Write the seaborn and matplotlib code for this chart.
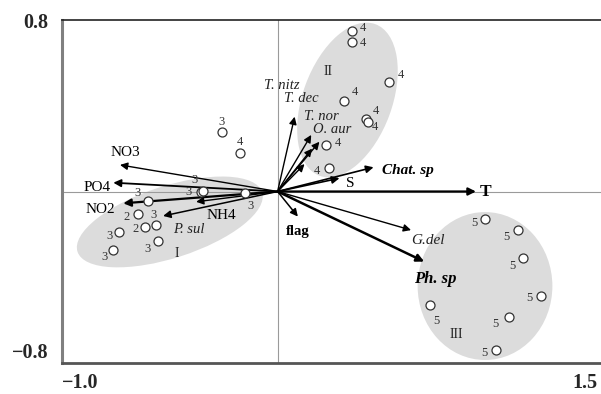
import numpy as np
import pandas as pd
import matplotlib
matplotlib.use("Agg")
import matplotlib.pyplot as plt
from matplotlib.patches import Ellipse
from matplotlib.transforms import ScaledTranslation
import seaborn as sns

# ---------------- data ----------------
site_x = [-0.26, -0.175, -0.353, -0.345, -0.15, -0.602, -0.648, -0.562, -0.616, -0.735, -0.557, -0.765,
          0.346, 0.346, 0.515, 0.306, 0.41, 0.421, 0.225, 0.238,
          0.963, 1.113, 1.139, 1.221, 0.707, 1.074, 1.015]
site_y = [0.279, 0.181, -0.002, 0.003, -0.008, -0.044, -0.106, -0.158, -0.164, -0.187, -0.231, -0.273,
          0.749, 0.696, 0.512, 0.424, 0.337, 0.326, 0.217, 0.108,
          -0.13, -0.18, -0.312, -0.487, -0.529, -0.584, -0.739]
site_labels = ["3", "4", "3", "3", "3", "3", "2", "3", "2", "3", "3", "3",
               "4", "4", "4", "4", "4", "4", "4", "4",
               "5", "5", "5", "5", "5", "5", "5"]

vec_names = ["NO3", "PO4", "NO2", "NH4", "P. sul", "T. nitz", "T. dec", "T. nor", "O. aur", "",
             "Chat. sp", "S", "T", "G.del", "Ph. sp", "flag"]
vec_x = [-0.731, -0.762, -0.716, -0.531, -0.378, 0.079, 0.156, 0.194, 0.16, 0.125,
         0.445, 0.287, 0.92, 0.619, 0.68, 0.094]
vec_y = [0.124, 0.041, -0.055, -0.114, -0.048, 0.349, 0.264, 0.232, 0.2, 0.128,
         0.113, 0.062, 0.0, -0.18, -0.327, -0.117]

group_names = ["I", "II", "III"]
group_x = [-0.469, 0.236, 0.827]
group_y = [-0.289, 0.559, -0.669]
group_cx = [-0.5, 0.324, 0.962]
group_cy = [-0.142, 0.427, -0.441]
group_w = [0.90, 0.753, 0.625]
group_h = [0.336, 0.414, 0.69]
group_angle = [18, 70, 0]

x_ticklabels = ["\u22121.0", "1.5"]
y_ticklabels = ["\u22120.8", "0.8"]

# ---------------- styles ----------------
site_label_off = [(0, 10), (0, 11), (-13, 0), (-9, 11), (5, -13), (-10, 8), (-11, -3), (-3, 10), (-9, -2),
                  (-10, -4), (-10, -8), (-8, -7),
                  (11, 3), (11, -1), (12, 7), (11, 9), (10, 8), (7, -5), (12, 2), (-12, -3),
                  (-11, -4), (-11, -7), (-11, -8), (-11, -2), (6, -16), (-14, -7), (-12, -3)]

# (dx, dy pixels, ha, fontsize, weight, style, line width)
vec_style = {
    "NO3": (5, 12, "center", 11, "normal", "normal", 1.0),
    "PO4": (-3, -5, "right", 11, "normal", "normal", 1.3),
    "NO2": (-8, -6, "right", 11, "normal", "normal", 1.6),
    "NH4": (43, 0, "left", 11, "normal", "normal", 1.1),
    "P. sul": (-7, -28, "center", 10.5, "normal", "italic", 1.0),
    "T. nitz": (-13, 31, "center", 10.5, "normal", "italic", 1.0),
    "T. dec": (-10, 36, "center", 10.5, "normal", "italic", 1.0),
    "T. nor": (2, 25, "center", 10.5, "normal", "italic", 1.0),
    "O. aur": (20, 19, "center", 10.5, "normal", "italic", 1.0),
    "": (0, 0, "center", 10, "normal", "normal", 1.0),
    "Chat. sp": (8, -3, "left", 11, "bold", "italic", 1.2),
    "S": (11, -5, "center", 11, "normal", "normal", 1.2),
    "T": (10, 0, "center", 12.5, "bold", "normal", 1.6),
    "G.del": (17, -10, "center", 11, "normal", "italic", 1.0),
    "Ph. sp": (11, -17, "center", 12, "bold", "italic", 1.8),
    "flag": (0, -15, "center", 10.5, "bold", "normal", 1.1),
}

sns.set_style("white")
plt.rcParams["font.family"] = ["Liberation Serif", "DejaVu Serif"]

fig = plt.figure(figsize=(6.01, 3.94), dpi=100)
ax = fig.add_axes([62 / 601, 31 / 394, 539 / 601, 343 / 394])
ax.set_xlim(-1.0, 1.5)
ax.set_ylim(-0.8, 0.8)

# ellipses
for cx, cy, w, h, a in zip(group_cx, group_cy, group_w, group_h, group_angle):
    ax.add_patch(Ellipse((cx, cy), w, h, angle=a, facecolor="#dcdcdc", edgecolor="none", zorder=0))

# zero lines
ax.axhline(0, color="#9a9a9a", lw=0.8, zorder=1)
ax.axvline(0, color="#9a9a9a", lw=0.8, zorder=1)

# arrows
for name, vx, vy in zip(vec_names, vec_x, vec_y):
    dx, dy, ha, fs, fw, fst, lw = vec_style[name]
    ax.annotate("", xy=(vx, vy), xytext=(0, 0),
                arrowprops=dict(arrowstyle="-|>", color="black", lw=lw, mutation_scale=11,
                                shrinkA=0, shrinkB=0), zorder=3)
    if name:
        ax.annotate(name, xy=(vx, vy), xytext=(dx, dy), textcoords="offset pixels",
                    ha=ha, va="center", fontsize=fs, fontweight=fw, fontstyle=fst,
                    color="#222222" if fst == "italic" and fw == "normal" else "black", zorder=5)

# sites
df = pd.DataFrame({"x": site_x, "y": site_y, "lab": site_labels})
sns.scatterplot(data=df, x="x", y="y", ax=ax, s=42, color="white", edgecolor="#333333",
                linewidth=0.9, zorder=4, legend=False)
for xx, yy, lab, (dx, dy) in zip(site_x, site_y, site_labels, site_label_off):
    ax.annotate(lab, xy=(xx, yy), xytext=(dx, dy), textcoords="offset pixels",
                ha="center", va="center", fontsize=9, color="#333333", zorder=5)

for name, gx, gy in zip(group_names, group_x, group_y):
    ax.text(gx, gy, name, ha="center", va="center", fontsize=10, color="#222222", zorder=5)

# axes styling
ax.set_xlabel("")
ax.set_ylabel("")
ax.spines["right"].set_visible(False)
ax.spines["top"].set_color("#222222")
ax.spines["top"].set_linewidth(1.2)
ax.spines["left"].set_color("#808080")
ax.spines["left"].set_linewidth(2.2)
ax.spines["bottom"].set_color("#555555")
ax.spines["bottom"].set_linewidth(2.0)

ax.set_xticks([-1.0, -0.5, 0.0, 0.5, 1.0, 1.5])
ax.set_xticklabels([x_ticklabels[0], "", "", "", "", x_ticklabels[1]])
ax.set_yticks([-0.8, -0.6, -0.4, -0.2, 0.0, 0.2, 0.4, 0.6, 0.8])
ax.set_yticklabels([y_ticklabels[0], "", "", "", "", "", "", "", y_ticklabels[1]])
ax.tick_params(axis="both", direction="inout", length=4, width=1, color="#222222",
               labelsize=14.5)
ax.tick_params(axis="x", pad=5)
ax.tick_params(axis="y", pad=8)
for lab in ax.get_xticklabels() + ax.get_yticklabels():
    lab.set_fontweight("bold")
xl = ax.get_xticklabels()
xl[0].set_ha("left")
xl[-1].set_ha("right")
xl[-1].set_transform(xl[-1].get_transform() + ScaledTranslation(-0.03, 0, fig.dpi_scale_trans))
yl = ax.get_yticklabels()
yl[0].set_transform(yl[0].get_transform() + ScaledTranslation(0, 0.13, fig.dpi_scale_trans))

fig.savefig("out.png", dpi=100)
